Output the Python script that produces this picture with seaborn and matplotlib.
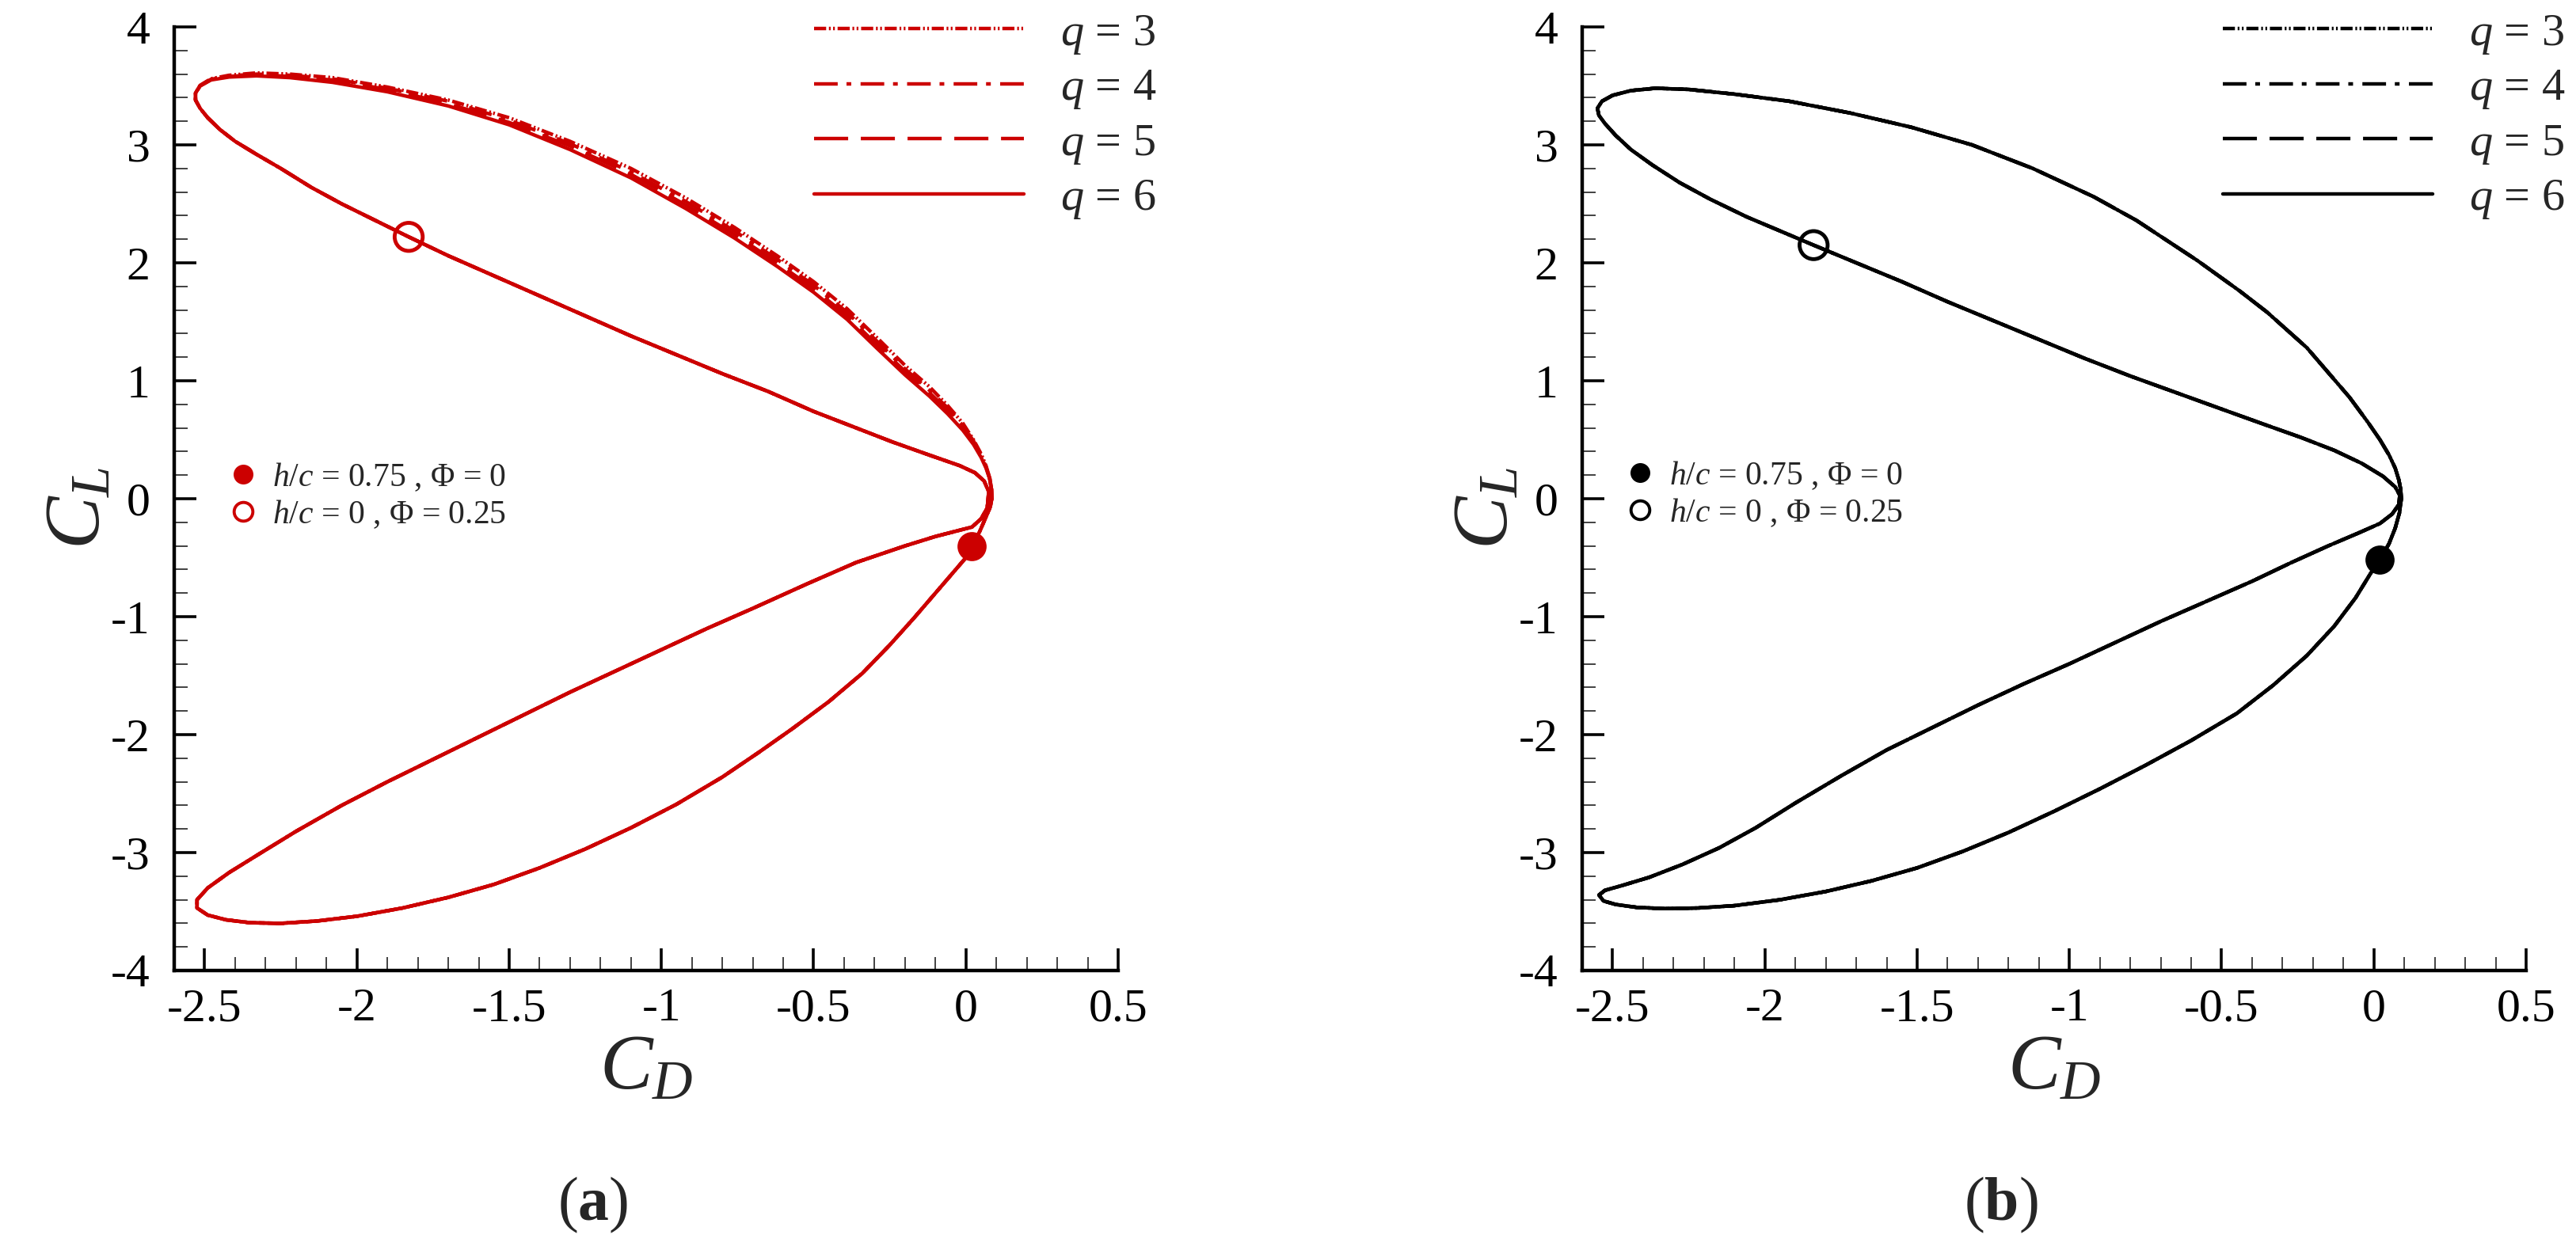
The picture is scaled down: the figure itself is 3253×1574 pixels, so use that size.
import numpy as np
import pandas as pd
import matplotlib.pyplot as plt
from matplotlib.lines import Line2D
from matplotlib.ticker import MultipleLocator, FormatStrFormatter
import seaborn as sns

# ---- data: C_D (x) and C_L (y) over one cycle ----
# panel (a): upper outer edge, separate for each q
a_upper_outer_x = [0.085, 0.084, 0.078, 0.066, 0.05, 0.025, -0.01, -0.06, -0.12, -0.2, -0.29, -0.39,
                   -0.5, -0.62, -0.76, -0.92, -1.1, -1.3, -1.5, -1.7, -1.9, -2.08, -2.22, -2.33,
                   -2.42, -2.48, -2.515, -2.53, -2.53]
a_upper_outer_y_q6 = [0.0, 0.08, 0.17, 0.26, 0.35, 0.46, 0.58, 0.72, 0.87, 1.05, 1.27, 1.52, 1.75, 1.97,
                      2.21, 2.46, 2.72, 2.96, 3.17, 3.33, 3.45, 3.53, 3.57, 3.585, 3.575, 3.55, 3.50,
                      3.44, 3.38]
a_upper_outer_y_q5 = [0.0, 0.08, 0.17, 0.27, 0.36, 0.48, 0.60, 0.75, 0.90, 1.08, 1.30, 1.55, 1.78, 2.00,
                      2.24, 2.49, 2.75, 2.99, 3.19, 3.35, 3.47, 3.55, 3.58, 3.595, 3.58, 3.55, 3.50,
                      3.44, 3.38]
a_upper_outer_y_q4 = [0.0, 0.08, 0.18, 0.27, 0.37, 0.49, 0.62, 0.77, 0.92, 1.10, 1.33, 1.58, 1.81, 2.03,
                      2.27, 2.52, 2.77, 3.01, 3.21, 3.37, 3.48, 3.56, 3.59, 3.60, 3.585, 3.555, 3.50,
                      3.44, 3.38]
a_upper_outer_y_q3 = [0.0, 0.08, 0.18, 0.28, 0.38, 0.50, 0.64, 0.79, 0.95, 1.13, 1.36, 1.61, 1.84, 2.06,
                      2.30, 2.55, 2.80, 3.03, 3.23, 3.38, 3.49, 3.57, 3.60, 3.61, 3.59, 3.56, 3.505,
                      3.44, 3.38]
# panel (a): rest of the loop (inner upper, inner lower, outer lower), shared by all q
a_rest_x = [-2.515, -2.49, -2.45, -2.40, -2.33, -2.25, -2.15, -2.05, -1.94, -1.83, -1.7, -1.55, -1.4,
            -1.25, -1.1, -0.95, -0.8, -0.65, -0.5, -0.36, -0.24, -0.12, -0.02, 0.03, 0.06, 0.075,
            0.07, 0.05, 0.02, -0.04, -0.1, -0.2, -0.36, -0.52, -0.7, -0.85, -1.0, -1.15, -1.3, -1.45,
            -1.6, -1.75, -1.9, -2.05, -2.2, -2.32, -2.42, -2.49, -2.525,
            -2.525, -2.49, -2.43, -2.35, -2.25, -2.13, -2.0,
            -1.85, -1.7, -1.55, -1.4, -1.25, -1.1, -0.95, -0.8, -0.68, -0.57, -0.45, -0.34, -0.25,
            -0.17, -0.1, -0.04, 0.0, 0.02, 0.045, 0.065, 0.08, 0.085]
a_rest_y = [3.31, 3.23, 3.13, 3.03, 2.92, 2.80, 2.64, 2.50, 2.36, 2.22, 2.06, 1.89, 1.72,
            1.55, 1.38, 1.22, 1.06, 0.91, 0.74, 0.60, 0.48, 0.37, 0.28, 0.22, 0.15, 0.06,
            -0.08, -0.17, -0.24, -0.28, -0.32, -0.40, -0.54, -0.72, -0.93, -1.10, -1.28, -1.46, -1.64,
            -1.83, -2.02, -2.21, -2.40, -2.60, -2.82, -3.01, -3.17, -3.30, -3.40,
            -3.47, -3.53, -3.57, -3.595, -3.60, -3.58, -3.54,
            -3.47, -3.38, -3.27, -3.13, -2.97, -2.79, -2.59, -2.36, -2.15, -1.95, -1.72, -1.48, -1.24,
            -1.01, -0.80, -0.62, -0.50, -0.40, -0.28, -0.16, -0.07, 0.0]

# panel (b): all q coincide
b_x = [0.09, 0.088, 0.082, 0.07, 0.05, 0.02, -0.02, -0.08, -0.14, -0.22, -0.35, -0.44, -0.58, -0.78,
       -0.92, -1.12, -1.32, -1.52, -1.72, -1.92, -2.1, -2.25, -2.36, -2.44, -2.5, -2.535, -2.55,
       -2.545, -2.525,
       -2.49, -2.44, -2.37, -2.28, -2.18, -2.06, -1.95, -1.84, -1.7, -1.55, -1.4, -1.25, -1.1, -0.95,
       -0.8, -0.65, -0.5, -0.36, -0.24, -0.13, -0.04, 0.03, 0.07, 0.085,
       0.082, 0.06, 0.02, -0.05, -0.15, -0.27, -0.4, -0.55, -0.7, -0.85, -1.0, -1.15, -1.3, -1.45,
       -1.6, -1.75, -1.9, -2.03, -2.15, -2.27, -2.38, -2.47, -2.525,
       -2.545, -2.53, -2.49, -2.42, -2.33, -2.22, -2.1,
       -1.95, -1.8, -1.65, -1.5, -1.35, -1.2, -1.05, -0.9, -0.75, -0.6, -0.45, -0.33, -0.22, -0.13,
       -0.06, -0.01, 0.02, 0.05, 0.07, 0.084, 0.09]
b_y = [0.0, 0.08, 0.16, 0.26, 0.37, 0.50, 0.65, 0.86, 1.04, 1.28, 1.58, 1.76, 2.02, 2.36,
       2.56, 2.80, 3.0, 3.15, 3.27, 3.37, 3.43, 3.47, 3.48, 3.46, 3.42, 3.37, 3.31,
       3.25, 3.18,
       3.08, 2.96, 2.83, 2.68, 2.54, 2.39, 2.27, 2.15, 2.00, 1.84, 1.67, 1.51, 1.35, 1.19,
       1.04, 0.90, 0.76, 0.63, 0.52, 0.41, 0.30, 0.19, 0.10, 0.03,
       -0.05, -0.13, -0.21, -0.29, -0.40, -0.54, -0.70, -0.87, -1.04, -1.22, -1.40, -1.57, -1.75,
       -1.94, -2.13, -2.35, -2.58, -2.79, -2.96, -3.10, -3.21, -3.28, -3.32,
       -3.36, -3.41, -3.44, -3.465, -3.475, -3.47, -3.45,
       -3.40, -3.33, -3.24, -3.13, -2.99, -2.83, -2.65, -2.46, -2.26, -2.05, -1.82, -1.58, -1.33,
       -1.08, -0.84, -0.63, -0.52, -0.38, -0.25, -0.12, 0.0]

q_labels = ["$q$ = 3", "$q$ = 4", "$q$ = 5", "$q$ = 6"]
marker_labels = ["$h/c$ = 0.75 , Φ = 0", "$h/c$ = 0 , Φ = 0.25"]
# marker points: (filled, open) per panel
a_pts_x = [0.02, -1.83]
a_pts_y = [-0.40, 2.22]
b_pts_x = [0.02, -1.84]
b_pts_y = [-0.52, 2.15]

# ---- style ----
sns.set_style("ticks")
plt.rcParams["font.family"] = ["Liberation Serif", "DejaVu Serif"]
plt.rcParams["mathtext.fontset"] = "custom"
plt.rcParams["mathtext.rm"] = "Liberation Serif"
plt.rcParams["mathtext.it"] = "Liberation Serif:italic"
plt.rcParams["mathtext.bf"] = "Liberation Serif:bold"
plt.rcParams["axes.unicode_minus"] = False
plt.rcParams["lines.scale_dashes"] = False

styles = [(0, (11, 2.5, 1.6, 2.2, 1.6, 2.5)),
          (0, (21.5, 8, 4.3, 8.5)),
          (0, (31, 11.5)),
          "-"]
LW = 3.2

W, H = 3253, 1574
fig = plt.figure(figsize=(W / 100, H / 100), dpi=100)
ax_a = fig.add_axes([220 / W, 1 - 1226 / H, 1192 / W, 1192 / H])
ax_b = fig.add_axes([1998 / W, 1 - 1226 / H, 1192 / W, 1192 / H])


def style_axes(ax):
    ax.set_xlim(-2.6, 0.5)
    ax.set_ylim(-4, 4)
    for s in ["top", "right"]:
        ax.spines[s].set_visible(False)
    for s in ["left", "bottom"]:
        ax.spines[s].set_linewidth(3.2)
        ax.spines[s].set_color("black")
    ax.xaxis.set_major_locator(MultipleLocator(0.5))
    ax.xaxis.set_minor_locator(MultipleLocator(0.1))
    ax.yaxis.set_major_locator(MultipleLocator(1))
    ax.yaxis.set_minor_locator(MultipleLocator(0.2))
    ax.xaxis.set_major_formatter(FormatStrFormatter("%g"))
    ax.yaxis.set_major_formatter(FormatStrFormatter("%g"))
    ax.tick_params(which="major", direction="in", length=20, width=2.6, labelsize=43,
                   color="black", labelcolor="black")
    ax.tick_params(axis="x", which="major", pad=16)
    ax.tick_params(axis="y", which="major", pad=22)
    ax.tick_params(which="minor", direction="in", length=12, width=1.3, color="#333333")
    ax.set_xlabel("$C_D$", fontsize=72)
    ax.set_ylabel("$C_L$", fontsize=72, rotation=90)
    ax.xaxis.set_label_coords(0.5, -0.105)
    ax.xaxis.label.set_verticalalignment("center")
    ax.yaxis.set_label_coords(-0.10, 0.49)
    ax.yaxis.label.set_verticalalignment("center")
    ax.yaxis.label.set_horizontalalignment("center")


def draw_panel(ax, curves, pts_x, pts_y, color, leg_x, mk_x, mk_y):
    for (cx, cy), ls in zip(curves, styles):
        sns.lineplot(x=cx, y=cy, sort=False, estimator=None, color=color,
                     linewidth=LW, linestyle=ls, ax=ax)
    sns.scatterplot(x=pts_x[:1], y=pts_y[:1], color=color, s=700, linewidth=0, ax=ax, zorder=5)
    sns.scatterplot(x=pts_x[1:], y=pts_y[1:], color=color, facecolors="none", edgecolor=color,
                    s=650, linewidth=3.5, ax=ax, zorder=5)
    style_axes(ax)

    handles = [Line2D([], [], color=color, lw=LW, linestyle=ls) for ls in styles]
    leg1 = ax.legend(handles, q_labels, loc="upper left", bbox_to_anchor=(leg_x / W, 1 - 16 / H),
                     bbox_transform=fig.transFigure, frameon=False, fontsize=42,
                     handlelength=4.55, handletextpad=0.78, labelspacing=0.25,
                     borderpad=0, borderaxespad=0)
    ax.add_artist(leg1)
    mh = [Line2D([], [], color=color, marker="o", linestyle="none", markersize=18,
                 markeredgewidth=0),
          Line2D([], [], color=color, marker="o", linestyle="none", markersize=17,
                 markerfacecolor="none", markeredgewidth=2.8)]
    ax.legend(mh, marker_labels, loc="upper left", bbox_to_anchor=(mk_x / W, 1 - mk_y / H),
              bbox_transform=fig.transFigure, frameon=False, fontsize=30,
              handlelength=0.6, handletextpad=0.6, labelspacing=0.15,
              borderpad=0, borderaxespad=0)


red = "#cc0000"
a_curves = [(a_upper_outer_x + a_rest_x, yy + a_rest_y)
            for yy in [a_upper_outer_y_q3, a_upper_outer_y_q4, a_upper_outer_y_q5, a_upper_outer_y_q6]]
b_curves = [(b_x, b_y)] * 4

draw_panel(ax_a, a_curves, a_pts_x, a_pts_y, red, 1028, 294, 582)
draw_panel(ax_b, b_curves, b_pts_x, b_pts_y, "black", 2807, 2058, 580)

fig.text(749 / W, 1 - 1522 / H, r"($\mathbf{a}$)", fontsize=56, ha="center", va="center")
fig.text(2527 / W, 1 - 1522 / H, r"($\mathbf{b}$)", fontsize=56, ha="center", va="center")

fig.savefig("out.png", dpi=100, facecolor="white")
